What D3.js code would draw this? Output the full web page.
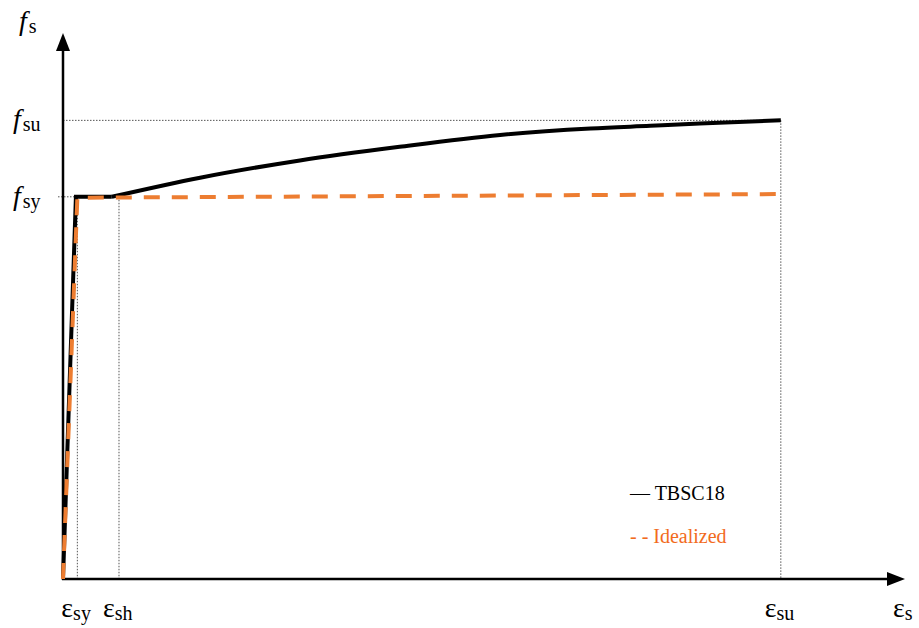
<!DOCTYPE html>
<html>
<head>
<meta charset="utf-8">
<script src="https://cdn.jsdelivr.net/npm/d3@7"></script>
<style>
  html, body { margin: 0; padding: 0; background: #fff; }
  svg { display: block; }
</style>
</head>
<body>
<svg id="chart" width="919" height="628"></svg>
<script>
// Characteristic strains and stresses (strain in mm/mm, stress in MPa)
const epsSy = 0.002;
const epsSh = 0.0078;
const epsSu = 0.1;
const fSy = 420;
const fSu = 504;

// TBSC18 stress-strain curve: elastic branch, yield plateau, strain hardening
const tbscStrain = [0, 0.0018, 0.0068, 0.0191, 0.0330, 0.0469, 0.0609, 0.0735, 0.0818, 0.0887, 0.1];
const tbscStress = [0, 420, 420, 441, 460, 475, 488, 495, 498, 500.5, 504];

// Idealized bilinear curve
const idealStrain = [0, 0.002, 0.1];
const idealStress = [0, 419, 423];

// Axis tick labels: [base, subscript]
const xTickLabels = [["ε", "sy"], ["ε", "sh"], ["ε", "su"]];
const xTickValues = [epsSy, epsSh, epsSu];
const yTickLabels = [["f", "sy"], ["f", "su"]];
const yTickValues = [fSy, fSu];

const legendLabels = ["— TBSC18", "- - Idealized"];

const serif = "'Liberation Serif', 'Times New Roman', Times, 'DejaVu Serif', serif";

const svg = d3.select("#chart");
const x = d3.scaleLinear().domain([0, 0.1173]).range([63, 905]);
const y = d3.scaleLinear().domain([0, 600]).range([579, 33]);

const black = "#000";
const orange = "#ED7D31";

// Dotted guide lines
const guides = svg.append("g")
  .attr("stroke", "#555")
  .attr("stroke-width", 1)
  .attr("stroke-dasharray", "1.5,1.5")
  .attr("fill", "none");
guides.append("line").attr("x1", x(0)).attr("x2", x(epsSu)).attr("y1", y(fSu)).attr("y2", y(fSu));
guides.append("line").attr("x1", x(0) - 5).attr("x2", x(0.0018)).attr("y1", y(fSy)).attr("y2", y(fSy));
[epsSy, epsSh].forEach(e => {
  guides.append("line").attr("x1", x(e)).attr("x2", x(e)).attr("y1", y(fSy)).attr("y2", y(0));
});
guides.append("line").attr("x1", x(epsSu)).attr("x2", x(epsSu)).attr("y1", y(fSu)).attr("y2", y(0));

// Axes with arrowheads
const axes = svg.append("g");
axes.append("line").attr("x1", x(0)).attr("x2", x(0)).attr("y1", y(0) + 1).attr("y2", 48)
  .attr("stroke", black).attr("stroke-width", 2.5);
axes.append("line").attr("x1", x(0) - 1).attr("x2", 890).attr("y1", y(0)).attr("y2", y(0))
  .attr("stroke", black).attr("stroke-width", 2.5);
axes.append("path")
  .attr("d", `M${x(0)},33 L${x(0) - 7},51 L${x(0) + 7},51 Z`).attr("fill", black);
axes.append("path")
  .attr("d", `M905,${y(0)} L887,${y(0) - 7} L887,${y(0) + 7} Z`).attr("fill", black);

// TBSC18 curve
const tbscData = tbscStrain.map((e, i) => [e, tbscStress[i]]);
const linePlain = d3.line().x(d => x(d[0])).y(d => y(d[1]));
const lineSmooth = d3.line().x(d => x(d[0])).y(d => y(d[1])).curve(d3.curveMonotoneX);
svg.append("path")
  .attr("d", linePlain(tbscData.slice(0, 3)))
  .attr("fill", "none").attr("stroke", black).attr("stroke-width", 4)
  .attr("stroke-linejoin", "miter");
svg.append("path")
  .attr("d", lineSmooth(tbscData.slice(2)))
  .attr("fill", "none").attr("stroke", black).attr("stroke-width", 4)
  .attr("stroke-linecap", "butt");

// Idealized curve
const idealData = idealStrain.map((e, i) => [e, idealStress[i]]);
svg.append("path")
  .attr("d", linePlain(idealData))
  .attr("fill", "none").attr("stroke", orange).attr("stroke-width", 4)
  .attr("stroke-dasharray", "16,12");

// Axis titles and tick labels
function subLabel(g, px, py, base, sub, opts) {
  const t = g.append("text").attr("x", px).attr("y", py).attr("fill", black)
    .attr("font-family", serif);
  t.append("tspan").text(base)
    .attr("font-size", opts.baseSize)
    .attr("font-style", opts.italic ? "italic" : "normal");
  t.append("tspan").text(sub)
    .attr("font-size", opts.subSize)
    .attr("dx", opts.dx || 0)
    .attr("dy", opts.dy);
  return t;
}

const labels = svg.append("g");
// y-axis title and ticks
subLabel(labels, 19, 30, "f", "s", { baseSize: 28, subSize: 20, italic: true, dx: 2, dy: 3 });
yTickValues.forEach((v, i) => {
  subLabel(labels, 13, y(v) + 8, yTickLabels[i][0], yTickLabels[i][1],
    { baseSize: 28, subSize: 20, italic: true, dx: 2, dy: 3 });
});
// x-axis ticks and title
xTickValues.forEach((v, i) => {
  subLabel(labels, x(v) - 16, 617, xTickLabels[i][0], xTickLabels[i][1],
    { baseSize: 28, subSize: 20, dy: 3 });
});
subLabel(labels, 893, 617, "ε", "s", { baseSize: 28, subSize: 20, dy: 3 });

// Legend
svg.append("text").attr("x", 630).attr("y", 500).attr("font-size", 20)
  .attr("font-family", serif).attr("fill", black).text(legendLabels[0]);
svg.append("text").attr("x", 630).attr("y", 543).attr("font-size", 20)
  .attr("font-family", serif).attr("fill", "#F26B1D").text(legendLabels[1]);
</script>
</body>
</html>
